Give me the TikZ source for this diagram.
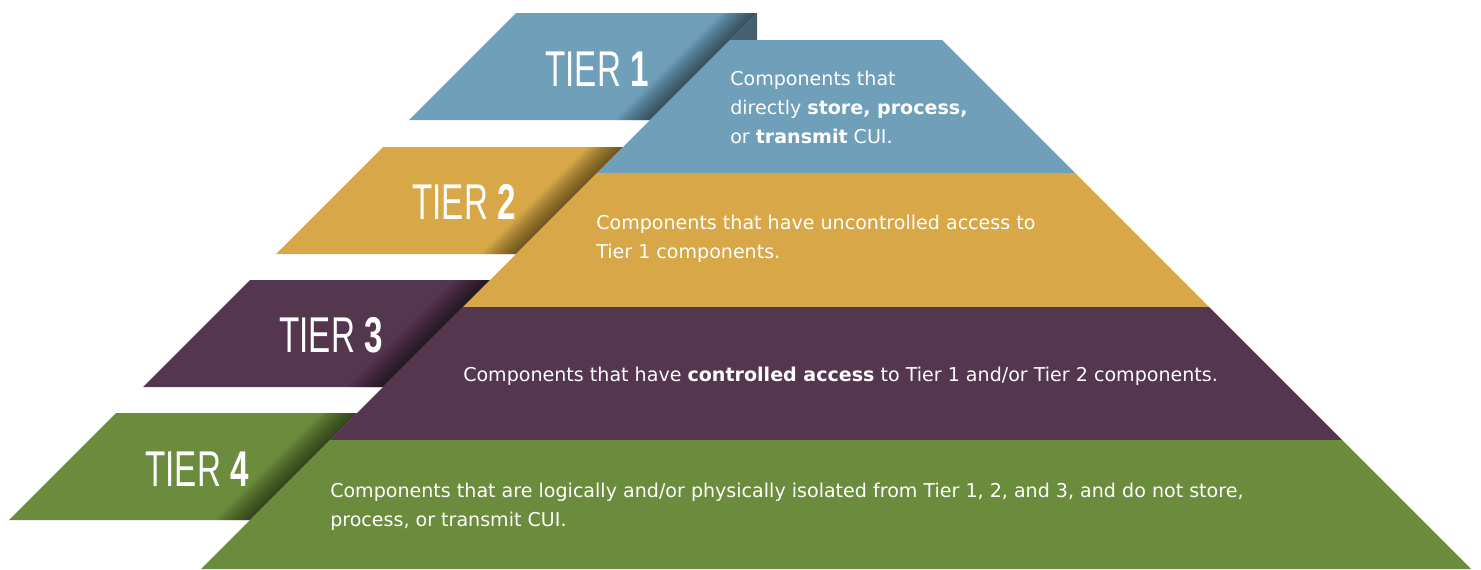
\documentclass[tikz,border=0pt]{standalone}
\usepackage{fontspec}
\setmainfont{DejaVu Sans}
\newfontfamily\tierfont[FakeStretch=0.66]{Liberation Sans}

\definecolor{tierblue}{RGB}{111,159,185}
\definecolor{tierbluedark}{RGB}{70,96,110}
\definecolor{tiergold}{RGB}{216,168,72}
\definecolor{tierplum}{RGB}{84,54,78}
\definecolor{tiergreen}{RGB}{107,140,60}

\begin{document}
\begin{tikzpicture}[x=0.75pt,y=0.75pt,yscale=-1,xscale=1,
  tierlabel/.style={anchor=base east, inner sep=0, text=white, font=\tierfont\fontsize{37.7}{40}\selectfont},
  desc/.style={anchor=north west, inner sep=0, align=left, text=white, font=\fontsize{14.3}{21.75}\selectfont},
  fold/.style={fill=black, fill opacity=0.022, draw=none}]
\useasboundingbox (0,0) rectangle (1481,569);

%Shape: Parallelogram [tab 1]
\fill [tierblue] (516,13) -- (757,13) -- (650,120) -- (409,120) -- cycle ;
\foreach \w in {1.5,3,...,36} \fill [fold] (757-\w,13) -- (757,13) -- (650,120) -- (650-\w,120) -- cycle ;
\fill [tierbluedark] (757,13) -- (757,40) -- (730,40) -- cycle ;
%Shape: Parallelogram [tab 2]
\fill [tiergold] (383,147) -- (623,147) -- (516,254) -- (276,254) -- cycle ;
\foreach \w in {1.5,3,...,36} \fill [fold] (623-\w,147) -- (623,147) -- (516,254) -- (516-\w,254) -- cycle ;
%Shape: Parallelogram [tab 3]
\fill [tierplum] (250,280) -- (490,280) -- (383,387) -- (143,387) -- cycle ;
\foreach \w in {1.5,3,...,36} \fill [fold] (490-\w,280) -- (490,280) -- (383,387) -- (383-\w,387) -- cycle ;
%Shape: Parallelogram [tab 4]
\fill [tiergreen] (116,413) -- (357,413) -- (250,520) -- (9,520) -- cycle ;
\foreach \w in {1.5,3,...,36} \fill [fold] (357-\w,413) -- (357,413) -- (250,520) -- (250-\w,520) -- cycle ;

%Shape: Trapezoid [pyramid bands]
\fill [tierblue] (730,40) -- (942,40) -- (1075,173) -- (597,173) -- cycle ;
\fill [tiergold] (597,173) -- (1075,173) -- (1209,307) -- (463,307) -- cycle ;
\fill [tierplum] (463,307) -- (1209,307) -- (1342,440) -- (330,440) -- cycle ;
\fill [tiergreen] (330,440) -- (1342,440) -- (1471,569) -- (201,569) -- cycle ;

% Text Node
\node (tier1) [tierlabel] at (649,86) {TIER \textbf{1}};
% Text Node
\node (tier2) [tierlabel] at (516,219) {TIER \textbf{2}};
% Text Node
\node (tier3) [tierlabel] at (383,352) {TIER \textbf{3}};
% Text Node
\node (tier4) [tierlabel] at (249,486) {TIER \textbf{4}};

% Text Node
\node (desc1) [desc] at (730,71) {Components that\\directly \textbf{store, process,}\\or \textbf{transmit} CUI.};
% Text Node
\node (desc2) [desc] at (596,215) {Components that have uncontrolled access to\\Tier 1 components.};
% Text Node
\node (desc3) [desc] at (463,367) {Components that have \textbf{controlled access} to Tier 1 and/or Tier 2 components.};
% Text Node
\node (desc4) [desc] at (330,483) {Components that are logically and/or physically isolated from Tier 1, 2, and 3, and do not store,\\process, or transmit CUI.};

\end{tikzpicture}
\end{document}
